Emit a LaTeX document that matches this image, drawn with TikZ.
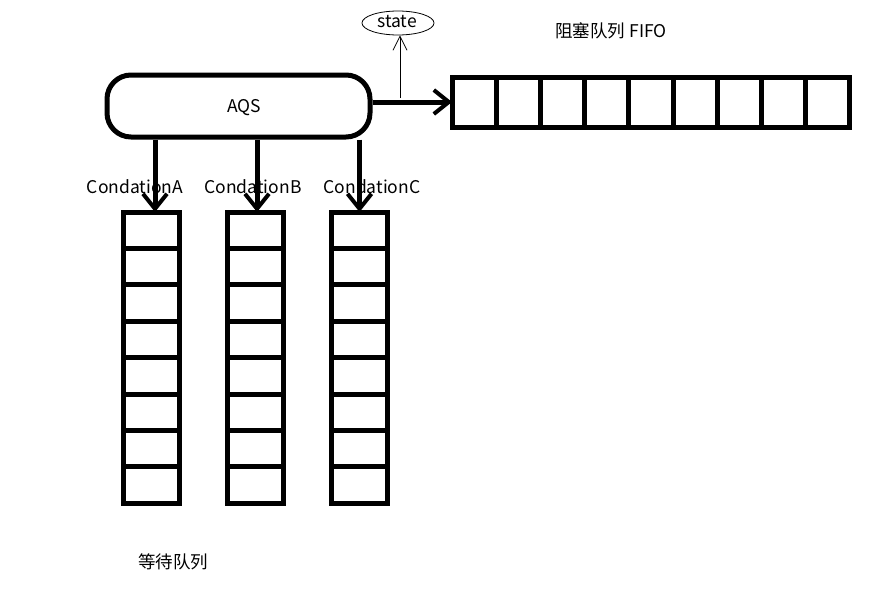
\documentclass[tikz,border=0pt]{standalone}
\usepackage{fontspec}
\setmainfont{Noto Sans CJK SC}
\usetikzlibrary{arrows.meta,shapes.geometric}
\begin{document}
\begin{tikzpicture}[x=1pt,y=-1pt,
  thickline/.style={line width=5pt},
  cellbox/.style={draw,line width=5pt,inner sep=0pt,outer sep=0pt},
  fifocell/.style={cellbox,minimum width=44.2pt,minimum height=50pt},
  waitcell/.style={cellbox,minimum width=56pt,minimum height=36.4pt},
  bigarrow/.style={line width=5pt,-{Straight Barb[length=15pt,width=24pt,line width=4pt]}},
  thinarrow/.style={line width=0.8pt,-{Straight Barb[length=14pt,width=14pt,line width=0.8pt]}},
  lbl/.style={font=\fontsize{17.5}{20}\selectfont,inner sep=0pt}]
\useasboundingbox (0,0) rectangle (892,597);
% AQS
\node[draw,line width=5pt,rounded corners=24pt,minimum width=263pt,minimum height=62pt,inner sep=0pt] (aqs) at (238.5,106) {};
\node[lbl] (aqstext) at (244,108) {AQS};
% state
\node[draw,ellipse,line width=0.8pt,minimum width=72pt,minimum height=24pt,inner sep=0pt] (state) at (398,23) {};
\node[lbl] (statetext) at (397,22) {state};
% FIFO cells
\foreach \i in {1,...,9} {
  \node[fifocell] (f\i) at ({452+44.2*(\i-0.5)},102) {};
}
\node[lbl] (fifotitle) at (611,31) {阻塞队列 FIFO};
% wait stacks
\foreach \s/\cx in {a/151,b/255.5,c/359.5} {
  \foreach \j in {1,...,8} {
    \node[waitcell] (\s\j) at (\cx,{212+36.4*(\j-0.5)}) {};
  }
}
\node[lbl] (la) at (135,187) {CondationA};
\node[lbl] (lb) at (253,187) {CondationB};
\node[lbl] (lc) at (372,187) {CondationC};
\node[lbl] (waittitle) at (173,562) {等待队列};
% arrows
\draw[bigarrow] (aqs.east |- f1.west) -- (f1.west);
\draw[bigarrow] (aqs.south -| a1.north) ++(4,0) coordinate (sa) -- (sa |- a1.north);
\draw[bigarrow] (aqs.south -| b1.north) ++(1.5,0) coordinate (sb) -- (sb |- b1.north);
\draw[bigarrow] (aqs.south -| c1.north) coordinate (sc) -- (sc |- c1.north);
\coordinate (sfoot) at (400,98);
\draw[thinarrow] (sfoot) -- (sfoot |- state.south);
\end{tikzpicture}
\end{document}
